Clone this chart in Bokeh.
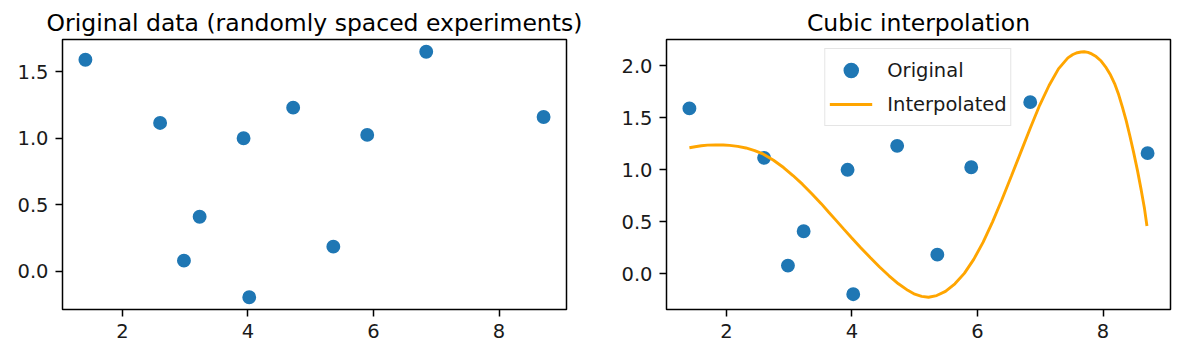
from bokeh.plotting import figure
from bokeh.layouts import row
from bokeh.models import FixedTicker, PrintfTickFormatter, Range1d
from bokeh.embed import file_html
from bokeh.resources import INLINE

# Original (randomly spaced) experiment data
data_x = [1.41, 2.60, 2.98, 3.23, 3.93, 4.02, 4.72, 5.36, 5.90, 6.84, 8.71]
data_y = [1.59, 1.115, 0.08, 0.41, 1.00, -0.195, 1.23, 0.185, 1.025, 1.65, 1.16]

# Interpolated curve
curve_x = [1.41, 1.50, 1.60, 1.70, 1.83, 1.95, 2.05, 2.18, 2.31, 2.45, 2.59,
           2.75, 2.91, 3.06, 3.21, 3.36, 3.51, 3.63, 3.75, 3.87, 3.99, 4.14,
           4.29, 4.44, 4.59, 4.74, 4.89, 5.00, 5.11, 5.22, 5.35, 5.49, 5.64,
           5.79, 5.94, 6.09, 6.24, 6.39, 6.54, 6.69, 6.84, 6.99, 7.14, 7.29,
           7.44, 7.52, 7.59, 7.65, 7.70, 7.76, 7.82, 7.89, 7.97, 8.04, 8.12,
           8.19, 8.25, 8.31, 8.37, 8.43, 8.49, 8.55, 8.61, 8.66, 8.70]
curve_y = [1.212, 1.222, 1.231, 1.237, 1.240, 1.238, 1.235, 1.225, 1.210, 1.185, 1.150,
           1.092, 1.022, 0.945, 0.862, 0.770, 0.675, 0.593, 0.512, 0.430, 0.350, 0.252,
           0.158, 0.066, -0.018, -0.095, -0.158, -0.195, -0.216, -0.224, -0.208, -0.168, -0.095,
           0.005, 0.140, 0.305, 0.500, 0.715, 0.940, 1.170, 1.400, 1.620, 1.810, 1.970,
           2.075, 2.108, 2.125, 2.132, 2.134, 2.128, 2.113, 2.088, 2.045, 1.990, 1.910,
           1.820, 1.720, 1.600, 1.470, 1.320, 1.160, 0.990, 0.800, 0.630, 0.460]

x_ticks = [2, 4, 6, 8]
y_ticks_left = [0.0, 0.5, 1.0, 1.5]
y_ticks_right = [0.0, 0.5, 1.0, 1.5, 2.0]

titles = ["Original data (randomly spaced experiments)", "Cubic interpolation"]

BLUE = "#1f77b4"
ORANGE = "#ffa500"
FONT = "DejaVu Sans"


def padded(vals):
    lo, hi = min(vals), max(vals)
    m = (hi - lo) * 0.05
    return Range1d(lo - m, hi + m)


def style(p, yticks):
    p.xgrid.visible = False
    p.ygrid.visible = False
    p.outline_line_color = "black"
    p.outline_line_width = 1.5
    p.title.text_font = FONT
    p.title.text_font_size = "23.5px"
    p.title.text_font_style = "normal"
    p.title.align = "center"
    p.title.text_color = "black"
    p.title.standoff = 6
    p.xaxis.ticker = FixedTicker(ticks=x_ticks)
    p.yaxis.ticker = FixedTicker(ticks=yticks)
    p.xaxis.formatter = PrintfTickFormatter(format="%d")
    p.yaxis.formatter = PrintfTickFormatter(format="%.1f")
    for ax in (p.xaxis[0], p.yaxis[0]):
        ax.axis_line_color = None
        ax.major_tick_in = 0
        ax.major_tick_out = 7
        ax.major_tick_line_color = "black"
        ax.major_tick_line_width = 1.5
        ax.minor_tick_line_color = None
        ax.major_label_text_font = FONT
        ax.major_label_text_font_size = "19.5px"
        ax.major_label_text_color = "#1a1a1a"
        ax.major_label_standoff = 7


xr = padded(data_x + curve_x)

p1 = figure(width=600, height=355, output_backend="svg", toolbar_location=None,
            title=titles[0], x_range=xr, y_range=padded(data_y),
            min_border_left=62, min_border_right=34, min_border_top=39,
            min_border_bottom=46)
style(p1, y_ticks_left)
p1.scatter(data_x, data_y, size=12, color=BLUE, line_width=1.9)

p2 = figure(width=578, height=355, output_backend="svg", toolbar_location=None,
            title=titles[1], x_range=Range1d(xr.start, xr.end),
            y_range=padded(data_y + curve_y),
            min_border_left=66, min_border_right=8, min_border_top=39,
            min_border_bottom=46)
style(p2, y_ticks_right)
p2.scatter(data_x, data_y, size=12, color=BLUE, line_width=1.9,
           legend_label="Original")
p2.line(curve_x, curve_y, line_color=ORANGE, line_width=2.9, legend_label="Interpolated")

lg = p2.legend[0]
lg.location = "top_center"
lg.margin = 9
lg.padding = 4
lg.spacing = -4
lg.glyph_width = 43
lg.glyph_height = 34
lg.label_standoff = 15
lg.label_height = 20
lg.label_text_font = FONT
lg.label_text_font_size = "19.5px"
lg.label_text_color = "#1a1a1a"
lg.border_line_color = "#cccccc"
lg.border_line_width = 1.5
lg.background_fill_alpha = 0.8

layout = row(p1, p2)
open("out.html", "w").write(file_html(layout, INLINE))
